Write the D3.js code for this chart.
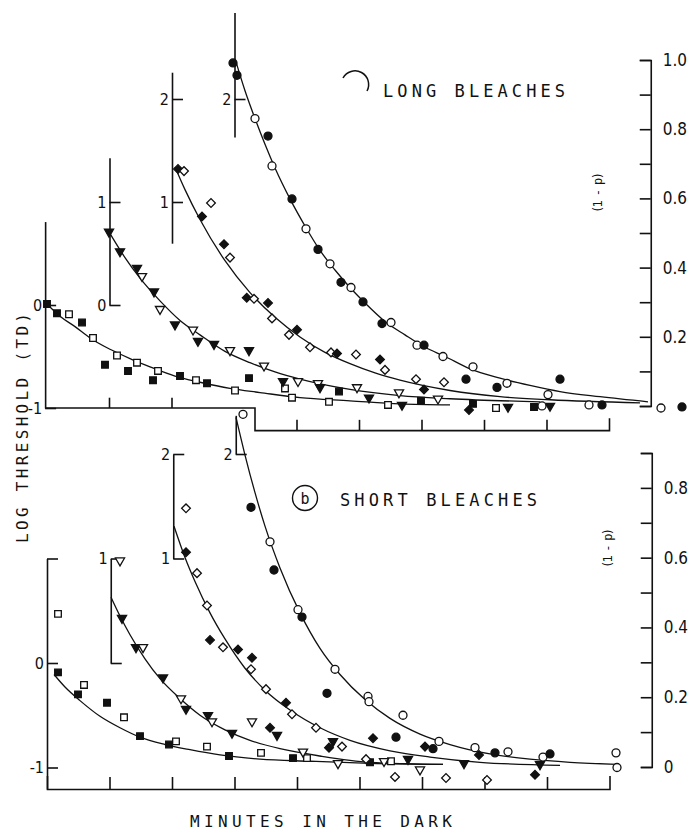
<!DOCTYPE html>
<html><head><meta charset="utf-8">
<script src="https://cdn.jsdelivr.net/npm/d3@7"></script>
<style>
html,body{margin:0;padding:0;background:#fff;}
svg{display:block;}
text{font-family:"DejaVu Sans Condensed","DejaVu Sans",sans-serif;fill:#111;}
text.mono{font-family:"DejaVu Sans Mono",monospace;}
</style></head><body>
<svg id="chart" width="694" height="833"></svg>
<script>
// ---------- DATA (minutes in the dark, log threshold, filled=1/open=0) ----------
const longSquares = [[0,0.01,1],[0.8,-0.08,1],[1.76,-0.09,0],[2.8,-0.17,1],[3.68,-0.32,0],[4.64,-0.58,1],[5.6,-0.49,0],[6.48,-0.64,1],[7.2,-0.56,0],[8.48,-0.73,1],[8.88,-0.64,0],[10.64,-0.69,1],[11.92,-0.73,0],[12.8,-0.76,1],[15.04,-0.83,0],[16.16,-0.71,1],[19.04,-0.81,0],[19.6,-0.90,0],[22.56,-0.94,0],[23.36,-0.84,1],[27.28,-0.97,0],[29.92,-0.93,1],[34.08,-0.96,1],[35.92,-1.00,0],[38.96,-0.99,1]];
const longTriangles = [[4.96,0.71,1],[5.84,0.52,1],[7.2,0.36,1],[7.6,0.28,0],[8.56,0.13,1],[9.04,-0.04,0],[10.24,-0.19,1],[11.68,-0.24,0],[12.08,-0.35,1],[13.36,-0.38,1],[14.64,-0.44,0],[16.16,-0.44,1],[17.36,-0.59,0],[18.88,-0.74,1],[20.08,-0.74,0],[21.68,-0.76,0],[21.84,-0.80,1],[24.8,-0.80,0],[25.76,-0.90,1],[28.16,-0.85,0],[28.4,-0.97,1],[31.28,-0.91,0],[36.88,-0.99,1],[40.24,-0.98,1]];
const longDiamonds = [[10.48,1.32,1],[10.96,1.30,0],[13.12,0.99,0],[12.4,0.86,1],[14.16,0.59,1],[14.64,0.46,0],[15.98,0.07,1],[16.56,0.06,0],[17.68,0.02,1],[18.0,-0.13,0],[19.36,-0.29,0],[20.0,-0.24,1],[21.04,-0.41,0],[22.72,-0.46,0],[23.2,-0.47,1],[24.72,-0.48,0],[26.64,-0.53,1],[27.04,-0.63,0],[29.52,-0.72,0],[30.16,-0.82,1],[31.76,-0.75,0],[33.76,-1.02,1]];
const longCircles = [[14.88,2.35,1],[15.2,2.23,1],[16.64,1.81,0],[17.68,1.64,1],[18.0,1.35,0],[19.6,1.03,1],[20.72,0.74,0],[21.68,0.54,1],[22.64,0.40,0],[23.52,0.22,1],[24.32,0.17,0],[25.28,0.03,1],[26.8,-0.18,1],[27.52,-0.17,0],[29.6,-0.39,0],[30.16,-0.39,1],[31.68,-0.50,0],[33.52,-0.72,1],[34.08,-0.60,0],[36.0,-0.80,1],[36.8,-0.76,0],[40.08,-0.87,0],[41.04,-0.72,1],[39.6,-0.98,0],[43.36,-0.97,0],[44.4,-0.97,1],[49.12,-1.00,0],[50.8,-0.99,1]];

const longSquaresFit = [[0,0.01],[1.04,-0.11],[2.24,-0.21],[3.44,-0.32],[5.04,-0.43],[6.64,-0.52],[8.24,-0.60],[10.24,-0.69],[12.24,-0.75],[14.64,-0.81],[17.04,-0.85],[20.24,-0.90],[24.24,-0.93],[28.24,-0.96],[32.24,-0.97]];
const longTrianglesFit = [[4.96,0.71],[6.24,0.46],[7.44,0.26],[9.04,0.04],[10.64,-0.15],[12.24,-0.29],[14.24,-0.45],[16.24,-0.56],[18.24,-0.65],[20.24,-0.72],[24.24,-0.82],[28.24,-0.88],[32.24,-0.91],[39.44,-0.94]];
const longDiamondsFit = [[10.24,1.34],[11.04,1.12],[12.24,0.83],[14.24,0.43],[16.24,0.12],[18.24,-0.12],[20.24,-0.31],[22.24,-0.46],[24.24,-0.57],[26.24,-0.66],[28.24,-0.73],[32.24,-0.83],[36.24,-0.89],[40.24,-0.92],[47.44,-0.95]];
const longCirclesFit = [[15.12,2.36],[15.84,2.08],[16.64,1.81],[17.44,1.56],[18.24,1.33],[19.44,1.03],[20.72,0.75],[21.84,0.53],[23.04,0.34],[24.24,0.17],[25.44,0.02],[27.04,-0.16],[28.64,-0.29],[30.24,-0.41],[31.84,-0.50],[33.84,-0.62],[36.24,-0.71],[38.64,-0.78],[41.04,-0.84],[44.24,-0.89],[48.08,-0.94]];

const shortSquares = [[0.88,0.47,0],[0.88,-0.09,1],[2.48,-0.30,1],[2.96,-0.21,0],[4.8,-0.38,1],[6.16,-0.52,0],[7.44,-0.70,1],[9.76,-0.78,1],[10.32,-0.75,0],[12.8,-0.80,0],[14.56,-0.89,1],[17.12,-0.86,0],[19.68,-0.91,1],[20.8,-0.91,0],[25.84,-0.95,1],[27.52,-0.94,0]];
const shortTriangles = [[5.84,0.98,0],[6.0,0.43,1],[7.12,0.15,1],[7.68,0.15,0],[9.28,-0.14,1],[10.72,-0.34,0],[11.12,-0.44,1],[12.88,-0.50,1],[13.2,-0.56,0],[14.8,-0.67,1],[16.4,-0.56,0],[18.4,-0.69,1],[20.48,-0.85,0],[22.88,-0.75,1],[23.28,-0.96,0],[26.96,-0.94,0],[28.88,-0.92,1],[29.84,-1.02,0],[33.36,-0.96,1],[39.44,-0.97,1]];
const shortDiamonds = [[11.12,1.48,0],[11.12,1.06,1],[12.0,0.86,0],[12.8,0.55,0],[13.04,0.22,1],[14.08,0.15,0],[15.28,0.13,1],[16.4,0.05,1],[16.32,-0.06,0],[17.52,-0.25,0],[17.84,-0.62,1],[19.12,-0.38,1],[19.6,-0.49,0],[21.52,-0.62,0],[22.56,-0.81,1],[23.6,-0.80,0],[25.52,-0.92,0],[26.08,-0.72,1],[27.84,-1.09,0],[30.24,-0.80,1],[31.92,-1.10,0],[34.56,-0.88,1],[35.2,-1.12,0],[39.04,-1.07,1]];
const shortCircles = [[15.68,2.38,0],[16.32,1.49,1],[17.84,1.16,0],[18.16,0.89,1],[20.08,0.51,0],[20.4,0.44,1],[23.04,-0.06,0],[22.4,-0.29,1],[25.68,-0.32,0],[25.76,-0.37,0],[28.48,-0.50,0],[27.92,-0.71,1],[31.36,-0.75,0],[30.88,-0.82,1],[34.24,-0.81,0],[35.84,-0.86,1],[36.88,-0.85,0],[39.68,-0.90,0],[40.24,-0.87,1],[45.52,-0.86,0],[45.6,-1.00,0]];

const shortSquaresFit = [[0.56,-0.11],[1.44,-0.23],[2.64,-0.36],[4.24,-0.51],[5.84,-0.62],[7.44,-0.71],[9.44,-0.78],[11.44,-0.83],[13.84,-0.88],[17.04,-0.92],[21.04,-0.94],[25.84,-0.96],[31.68,-0.97]];
const shortTrianglesFit = [[5.12,0.63],[5.84,0.45],[6.64,0.27],[7.84,0.04],[9.04,-0.15],[10.64,-0.34],[12.24,-0.50],[14.24,-0.64],[16.24,-0.74],[18.64,-0.82],[21.84,-0.89],[25.84,-0.95],[31.68,-0.97]];
const shortDiamondsFit = [[10.16,1.31],[11.04,1.01],[11.84,0.78],[13.04,0.48],[14.24,0.23],[15.84,-0.05],[17.44,-0.26],[19.44,-0.45],[21.84,-0.62],[24.24,-0.74],[27.44,-0.84],[30.64,-0.90],[34.64,-0.95],[41.04,-0.98]];
const shortCirclesFit = [[15.12,2.35],[15.84,1.99],[16.64,1.63],[17.44,1.31],[18.64,0.91],[20.24,0.48],[21.84,0.14],[23.44,-0.11],[25.44,-0.35],[27.44,-0.53],[29.84,-0.68],[32.24,-0.78],[35.44,-0.87],[38.64,-0.92],[41.84,-0.95],[45.6,-0.97]];

// offset log-threshold scale stubs: minute position, range, [tick value, label]
const longStubs = [
  {at:-0.15, lo:-1, hi:0.81, ticks:[[0,"0"],[-1,"-1"]]},
  {at:5, lo:0, hi:1.43, ticks:[[1,"1"],[0,"0"]]},
  {at:10, lo:0.6, hi:2.26, ticks:[[2,"2"],[1,"1"]]},
  {at:15, lo:1.63, hi:2.84, ticks:[[2,"2"]]}
];
const shortStubs = [
  {at:0, lo:-1.206, hi:1, ticks:[[1,""],[0,"0"],[-1,"-1"]]},
  {at:5.1, lo:0, hi:1, ticks:[[1,"1"],[0,""]]},
  {at:10.1, lo:1, hi:2, ticks:[[2,"2"],[1,"1"]]},
  {at:15.1, lo:2, hi:2.37, ticks:[[2,"2"]]}
];
const minuteTicksUpper = [5,10];
const minuteTicksLower = [20,25,30,35,40];
const minuteTicksShort = [5,10,15,20,25,30,35,40];
const pTicksLong = [0,0.1,0.2,0.3,0.4,0.5,0.6,0.7,0.8,0.9,1.0];
const pLabelsLong = {"1":"1.0","0.8":"0.8","0.6":"0.6","0.4":"0.4","0.2":"0.2"};
const pTicksShort = [0,0.1,0.2,0.3,0.4,0.5,0.6,0.7,0.8,0.9];
const pLabelsShort = {"0.8":"0.8","0.6":"0.6","0.4":"0.4","0.2":"0.2","0":"0"};

// ---------- SCALES ----------
const svg = d3.select("#chart");
const INK = "#111";
const x = d3.scaleLinear().domain([0,45]).range([47,609.5]);
const yL = d3.scaleLinear().domain([-1,2]).range([408,99]);
const yS = d3.scaleLinear().domain([-1,2]).range([767.5,454]);
const pL = d3.scaleLinear().domain([0,1]).range([406,60]);
const pS = d3.scaleLinear().domain([0,0.9]).range([767,453]);

function styleAxis(g, fs){
  g.attr("font-size",null).attr("font-family",null);
  g.selectAll("path,line").attr("stroke",INK).attr("stroke-width",1.6);
  g.selectAll("text").attr("fill",INK).style("font-size",fs+"px");
}

function drawStubs(stubs, y){
  stubs.forEach(s=>{
    const sc = d3.scaleLinear().domain([s.lo,s.hi]).range([y(s.lo),y(s.hi)]);
    const lab = new Map(s.ticks);
    const ax = d3.axisLeft(sc).tickValues(s.ticks.map(t=>t[0]))
      .tickFormat(v=>lab.get(v)).tickSizeInner(-11).tickSizeOuter(0).tickPadding(3);
    const g = svg.append("g").attr("transform",`translate(${x(s.at)},0)`).call(ax);
    styleAxis(g,16);
  });
}
drawStubs(longStubs, yL);
drawStubs(shortStubs, yS);

// top (long bleaches) stepped minute axis
const brk = 16.64, lvlUp = -1, lvlDn = -1.22;
svg.append("path")
  .attr("d",`M${x(-0.15)},${yL(lvlUp)}H${x(brk)}V${yL(lvlDn)}H${x(45)}V${yL(-1.10)}`)
  .attr("fill","none").attr("stroke",INK).attr("stroke-width",1.6);
svg.selectAll(".tu").data(minuteTicksUpper).join("line")
  .attr("x1",d=>x(d)).attr("x2",d=>x(d)).attr("y1",yL(lvlUp)).attr("y2",yL(-0.9))
  .attr("stroke",INK).attr("stroke-width",1.6);
svg.selectAll(".tl").data(minuteTicksLower).join("line")
  .attr("x1",d=>x(d)).attr("x2",d=>x(d)).attr("y1",yL(lvlDn)).attr("y2",yL(-1.115))
  .attr("stroke",INK).attr("stroke-width",1.6);

// bottom (short bleaches) minute axis
const gxs = svg.append("g").attr("transform",`translate(0,${yS(-1.206)})`)
  .call(d3.axisBottom(x).tickValues(minuteTicksShort).tickFormat("").tickSizeInner(-12).tickSizeOuter(-13));
styleAxis(gxs,12);

// right (1-p) axes
const xR = x(48.3);
const gpl = svg.append("g").attr("transform",`translate(${xR},0)`)
  .call(d3.axisRight(pL).tickValues(pTicksLong).tickFormat(v=>pLabelsLong[String(+v.toFixed(1))]||"")
  .tickSizeInner(-11).tickSizeOuter(-11).tickPadding(12));
styleAxis(gpl,17);
const gps = svg.append("g").attr("transform",`translate(${xR+1},0)`)
  .call(d3.axisRight(pS).tickValues(pTicksShort).tickFormat(v=>pLabelsShort[String(+v.toFixed(1))]||"")
  .tickSizeInner(-11).tickSizeOuter(-11).tickPadding(12));
styleAxis(gps,17);

// ---------- FITTED CURVES ----------
function drawFit(data, y){
  svg.append("path").datum(data)
    .attr("d", d3.line().x(d=>x(d[0])).y(d=>y(d[1])).curve(d3.curveMonotoneX))
    .attr("fill","none").attr("stroke",INK).attr("stroke-width",1.3);
}
[longSquaresFit,longTrianglesFit,longDiamondsFit,longCirclesFit].forEach(d=>drawFit(d,yL));
[shortSquaresFit,shortTrianglesFit,shortDiamondsFit,shortCirclesFit].forEach(d=>drawFit(d,yS));

// ---------- MARKERS ----------
const shapes = {
  square:{type:d3.symbolSquare,size:44,rot:0},
  circle:{type:d3.symbolCircle,size:50,rot:0},
  diamond:{type:d3.symbolSquare,size:38,rot:45},
  triangle:{type:d3.symbolTriangle,size:36,rot:180}
};
function drawPts(data, shape, y){
  const s = shapes[shape];
  svg.append("g").selectAll("path").data(data).join("path")
    .attr("d", d3.symbol().type(s.type).size(s.size))
    .attr("transform", d=>`translate(${x(d[0])},${y(d[1])}) rotate(${s.rot})`)
    .attr("fill", d=>d[2]?INK:"#fff")
    .attr("stroke", INK).attr("stroke-width",1.3);
}
drawPts(longSquares,"square",yL);
drawPts(longTriangles,"triangle",yL);
drawPts(longDiamonds,"diamond",yL);
drawPts(longCircles,"circle",yL);
drawPts(shortSquares,"square",yS);
drawPts(shortTriangles,"triangle",yS);
drawPts(shortDiamonds,"diamond",yS);
drawPts(shortCircles,"circle",yS);

// ---------- TEXT ----------
function txt(str, xp, yp, fs, len, rot){
  const t = svg.append("text").attr("class","mono").text(str).style("font-size",fs+"px")
    .attr("textLength",len).attr("lengthAdjust","spacing");
  if(rot){ t.attr("transform",`translate(${xp},${yp}) rotate(${rot})`); }
  else { t.attr("x",xp).attr("y",yp); }
  return t;
}
svg.append("path").attr("d","M343,78 A13,13 0 0 1 367,91")
  .attr("fill","none").attr("stroke",INK).attr("stroke-width",1.5);
txt("LONG BLEACHES",383,97,17,182);
svg.append("circle").attr("cx",305).attr("cy",498).attr("r",12.5)
  .attr("fill","none").attr("stroke",INK).attr("stroke-width",1.4);
svg.append("text").attr("class","mono").text("b").attr("x",305).attr("y",504).attr("text-anchor","middle").style("font-size","15px");
txt("SHORT BLEACHES",340,506,17,197);
txt("MINUTES IN THE DARK",190,827,16,262);
txt("LOG THRESHOLD (TD)",28,543,16,230,-90);
txt("(1 - p)",602,213,12,41,-90);
txt("(1 - p)",612,568,12,40,-90);
</script>
</body></html>
